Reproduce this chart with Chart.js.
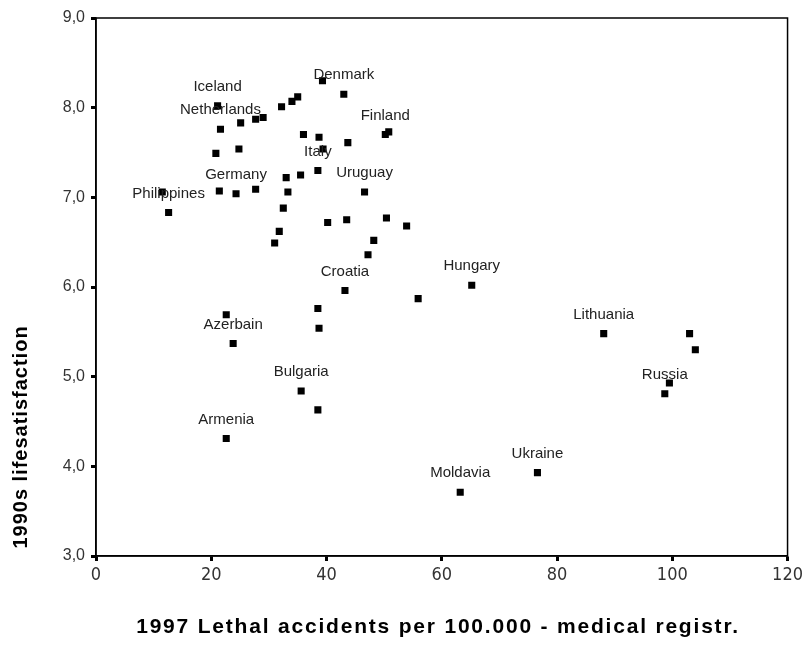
<!DOCTYPE html>
<html>
<head>
<meta charset="utf-8">
<script src="https://cdn.jsdelivr.net/npm/chart.js@4/dist/chart.umd.min.js"></script>
<style>
  html, body { margin: 0; padding: 0; background: #fff; }
  #wrap { width: 807px; height: 654px; }
</style>
</head>
<body>
<div id="wrap"><canvas id="chart" width="807" height="654"></canvas></div>
<script>
// accidents per 100.000 (x) and life satisfaction (y)
const accidents = [
  21.1, 43.0, 39.3, 35.0, 34.0, 32.2, 29.0, 27.7, 25.1, 21.6,
  20.8, 24.8, 36.0, 38.7, 43.7, 39.4, 38.5, 35.5, 33.0, 21.4,
  24.3, 27.7, 33.3, 11.5, 12.6, 32.5, 31.8, 46.6, 40.2, 43.5,
  50.2, 50.8, 50.4, 53.9, 48.2, 47.2, 31.0, 43.2, 55.9, 38.5,
  38.7, 22.6, 23.8, 35.6, 38.5, 22.6, 65.2, 88.1, 103.0, 104.0,
  99.5, 98.7, 76.6, 63.2
];
const satisfaction = [
  8.02, 8.15, 8.30, 8.12, 8.07, 8.01, 7.89, 7.87, 7.83, 7.76,
  7.49, 7.54, 7.70, 7.67, 7.61, 7.54, 7.30, 7.25, 7.22, 7.07,
  7.04, 7.09, 7.06, 7.06, 6.83, 6.88, 6.62, 7.06, 6.72, 6.75,
  7.70, 7.73, 6.77, 6.68, 6.52, 6.36, 6.49, 5.96, 5.87, 5.76,
  5.54, 5.69, 5.37, 4.84, 4.63, 4.31, 6.02, 5.48, 5.48, 5.30,
  4.93, 4.81, 3.93, 3.71
];
const countries = [
  "Iceland", "Denmark", "", "", "", "", "", "", "", "Netherlands",
  "", "", "", "", "", "", "Italy", "", "", "",
  "Germany", "", "", "", "Philippines", "", "", "Uruguay", "", "",
  "Finland", "", "", "", "", "", "", "Croatia", "", "",
  "", "", "Azerbain", "Bulgaria", "", "Armenia", "Hungary", "Lithuania", "", "",
  "", "Russia", "Ukraine", "Moldavia"
];
const xTicks = [0, 20, 40, 60, 80, 100, 120];
const yTicks = [3, 4, 5, 6, 7, 8, 9];

const points = accidents.map((x, i) => ({ x: x, y: satisfaction[i] }));

// labels above the marks, frame and axis titles
const extras = {
  id: 'extras',
  afterDatasetsDraw(chart) {
    const ctx = chart.ctx;
    const meta = chart.getDatasetMeta(0);
    ctx.save();
    ctx.font = '15px "Liberation Sans", Arial, sans-serif';
    ctx.fillStyle = '#222';
    ctx.textAlign = 'center';
    ctx.textBaseline = 'middle';
    meta.data.forEach((el, i) => {
      if (countries[i]) ctx.fillText(countries[i], el.x, el.y - 19);
    });
    ctx.restore();
  },
  afterDraw(chart) {
    const ctx = chart.ctx;
    const area = chart.chartArea;
    ctx.save();
    ctx.strokeStyle = '#000';
    ctx.lineWidth = 1.5;
    ctx.strokeRect(area.left, area.top, area.right - area.left, area.bottom - area.top);

    ctx.fillStyle = '#000';
    ctx.textAlign = 'center';
    ctx.textBaseline = 'middle';
    ctx.font = 'bold 21px "Liberation Sans", Arial, sans-serif';
    ctx.letterSpacing = '1.8px';
    ctx.fillText('1997 Lethal accidents per 100.000 - medical registr.', 438, 627);

    ctx.font = 'bold 20px "Liberation Sans", Arial, sans-serif';
    ctx.letterSpacing = '1px';
    ctx.translate(21, 437);
    ctx.rotate(-Math.PI / 2);
    ctx.fillText('1990s lifesatisfaction', 0, 0);
    ctx.restore();
  }
};

new Chart(document.getElementById('chart'), {
  type: 'scatter',
  data: {
    datasets: [{
      label: 'countries',
      data: points,
      backgroundColor: '#000',
      borderColor: '#000',
      borderWidth: 0,
      pointStyle: 'rect',
      pointRadius: 5,
      pointHoverRadius: 5
    }]
  },
  options: {
    responsive: false,
    animation: false,
    layout: { padding: { left: 0, top: 18, right: 13, bottom: 0 } },
    plugins: {
      legend: { display: false },
      tooltip: { enabled: false }
    },
    scales: {
      x: {
        type: 'linear',
        min: 0,
        max: 120,
        afterFit(scale) { scale.height = 98; },
        afterBuildTicks(scale) { scale.ticks = xTicks.map(v => ({ value: v })); },
        grid: { drawOnChartArea: false, drawTicks: true, tickLength: 5, tickWidth: 3, color: '#000' },
        border: { display: true, color: '#000', width: 1.5 },
        ticks: {
          padding: 4,
          maxRotation: 0,
          color: '#333',
          font: { family: '"Liberation Sans Narrow", "DejaVu Sans Condensed", sans-serif', size: 18 },
          callback: v => String(v)
        }
      },
      y: {
        type: 'linear',
        min: 3,
        max: 9,
        afterFit(scale) { scale.width = 96; },
        afterBuildTicks(scale) { scale.ticks = yTicks.map(v => ({ value: v })); },
        grid: { drawOnChartArea: false, drawTicks: true, tickLength: 5, tickWidth: 3, color: '#000' },
        border: { display: true, color: '#000', width: 1.5 },
        ticks: {
          padding: 6,
          color: '#333',
          font: { family: '"Liberation Sans", Arial, sans-serif', size: 16 },
          callback: v => v.toFixed(1).replace('.', ',')
        }
      }
    }
  },
  plugins: [extras]
});
</script>
</body>
</html>
